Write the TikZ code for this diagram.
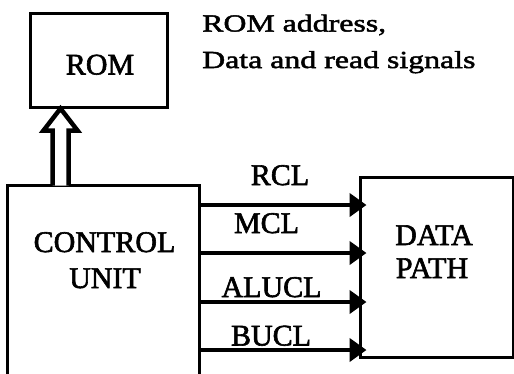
\documentclass[tikz,border=0pt]{standalone}
\usepackage{fontspec}
\setmainfont{Liberation Serif}
\newfontfamily\heavyfont{Liberation Serif}[FakeBold=2]
\newfontfamily\widefont{Liberation Serif}[FakeStretch=1.3,FakeBold=2]
\usetikzlibrary{arrows.meta,calc}
\begin{document}
\begin{tikzpicture}[x=1pt,y=-1pt,
  box/.style={draw,line width=3pt,rectangle,inner sep=0pt},
  lbl/.style={font=\heavyfont\fontsize{30}{30}\selectfont,inner sep=0pt,anchor=base},
  toptxt/.style={font=\widefont\fontsize{24.5}{24.5}\selectfont,inner sep=0pt,anchor=base west},
  sig/.style={line width=4.5pt,-{Triangle[length=17pt,width=23pt]}},
  hollow/.style={draw,line width=4.5pt,fill=white,line join=miter}]
\useasboundingbox (0,0) rectangle (514,373);
\clip (0,0) rectangle (514,373);
% boxes
\node[box,minimum width=137pt,minimum height=94pt] (rom) at (98.5,60) {};
\node[box,minimum width=192pt,minimum height=215pt] (cu) at (103,292.5) {};
\node[box,minimum width=153pt,minimum height=180pt] (dp) at (436.5,267) {};
% box labels
\node[lbl] (romlbl) at (100,74.5) {ROM};
\node[lbl] (cl1) at (104.5,252) {CONTROL};
\node[lbl] (cl2) at (105,288) {UNIT};
\node[lbl] (dl1) at (434,245) {DATA};
\node[lbl] (dl2) at (432,278) {PATH};
% top text
\node[toptxt] (t1) at (202,31.5) {ROM address,};
\node[toptxt] (t2) at (202,68) {Data and read signals};
% hollow arrow
\coordinate (hb) at ([xshift=55pt]cu.north west);
\coordinate (ht) at (hb |- rom.south);
\draw[hollow] ($(hb)+(-8,2)$) -- ($(ht)+(-8,22)$) -- ($(ht)+(-17,22)$) -- (ht)
  -- ($(ht)+(17,22)$) -- ($(ht)+(8,22)$) -- ($(hb)+(8,2)$);
% signal arrows
\coordinate (s1) at ([xshift=-1.5pt,yshift=-21.5pt]cu.north east);
\coordinate (s2) at ([xshift=-1.5pt,yshift=-69.5pt]cu.north east);
\coordinate (s3) at ([xshift=-1.5pt,yshift=-118.5pt]cu.north east);
\coordinate (s4) at ([xshift=-1.5pt,yshift=-166.5pt]cu.north east);
\draw[sig] (s1) -- ($(s1 -| dp.west)+(8,0)$);
\draw[sig] (s2) -- ($(s2 -| dp.west)+(8,0)$);
\draw[sig] (s3) -- ($(s3 -| dp.west)+(8,0)$);
\draw[sig] (s4) -- ($(s4 -| dp.west)+(8,0)$);
% signal labels
\node[lbl] (rcl) at (280,185) {RCL};
\node[lbl] (mcl) at (266.5,233) {MCL};
\node[lbl] (alucl) at (271.5,297) {ALUCL};
\node[lbl] (bucl) at (271,345.5) {BUCL};
\end{tikzpicture}
\end{document}
